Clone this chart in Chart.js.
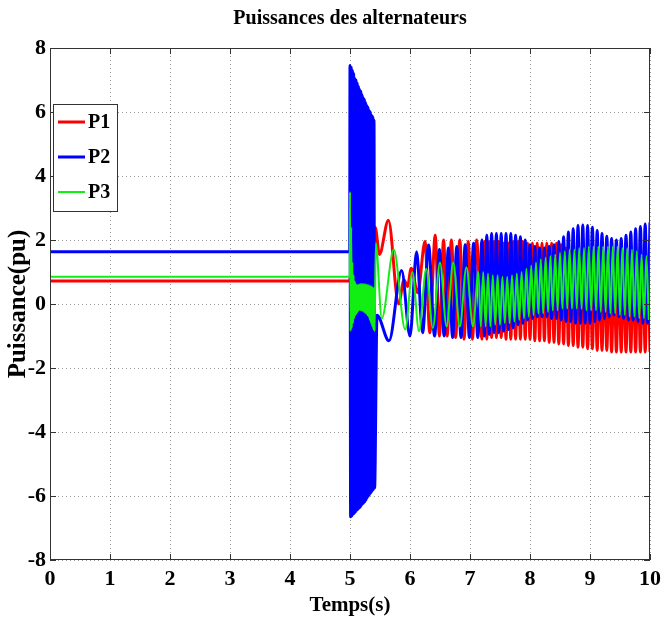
<!DOCTYPE html>
<html>
<head>
<meta charset="utf-8">
<title>Puissances des alternateurs</title>
<style>
    html, body { margin: 0; padding: 0; background: #fff; }
    canvas { display: block; }
</style>
<script src="https://cdn.jsdelivr.net/npm/chart.js@4/dist/chart.umd.min.js"></script>
</head>
<body>
<canvas id="powerChart" width="671" height="619"></canvas>
<script>
// axis ticks
const xTicks = [0, 1, 2, 3, 4, 5, 6, 7, 8, 9, 10];
const yTicks = [-8, -6, -4, -2, 0, 2, 4, 6, 8];

// before the fault (steady state)
const tPre = [0, 4.995];
const p1Pre = [0.72, 0.72];
const p2Pre = [1.63, 1.63];
const p3Pre = [0.85, 0.85];

// fault 5.0 - 5.4 s
const tFault = [5.00, 5.01, 5.02, 5.03, 5.04, 5.05, 5.06, 5.07, 5.08, 5.09, 5.10,
    5.11, 5.12, 5.13, 5.14, 5.15, 5.16, 5.17, 5.18, 5.19, 5.20,
    5.21, 5.22, 5.23, 5.24, 5.25, 5.26, 5.27, 5.28, 5.29, 5.30,
    5.31, 5.32, 5.33, 5.34, 5.35, 5.36, 5.37, 5.38, 5.39, 5.40];
const p1FaultT = [5.05, 5.15, 5.25, 5.35];
const p1Fault = [2.0, -0.4, 2.1, -0.3];
const p2Fault = [7.45, -6.65, 7.4, -6.62, 7.3, -6.58, 7.2, -6.55, 7.05, -6.5, 7.0,
    -6.45, 6.9, -6.42, 6.8, -6.38, 6.7, -6.35, 6.65, -6.3, 6.55,
    -6.25, 6.45, -6.22, 6.4, -6.18, 6.3, -6.12, 6.2, -6.05, 6.15,
    -6.0, 6.05, -5.95, 6.0, -5.9, 5.9, -5.85, 5.85, -5.8, 5.75];
const p3Fault = [3.5, -0.85, 2.4, -0.75, 1.3, -0.6, 0.9, -0.45, 0.7, -0.35, 0.62,
    -0.3, 0.6, -0.25, 0.6, -0.2, 0.62, -0.2, 0.63, -0.2, 0.63,
    -0.22, 0.63, -0.25, 0.62, -0.28, 0.62, -0.3, 0.6, -0.35, 0.6,
    -0.4, 0.58, -0.5, 0.56, -0.6, 0.55, -0.7, 0.52, -0.8, 0.5];

// after clearing, 5.4 - 7.2 s
const p1MidT = [5.42, 5.49, 5.64, 5.81, 5.90, 5.96, 6.02, 6.13, 6.25, 6.33, 6.42,
    6.49, 6.56, 6.62, 6.69, 6.76, 6.83, 6.90, 6.97, 7.04, 7.11];
const p1Mid = [2.4, 1.55, 2.62, 0.0, 0.75, 0.55, 1.12, 0.35, 1.95, -0.9, 2.15,
    -1.0, 2.0, -1.0, 2.0, -1.05, 2.0, -1.1, 1.95, -1.1, 2.0];
const p2MidT = [5.41, 5.45, 5.65, 5.86, 6.00, 6.11, 6.21, 6.31, 6.41, 6.49, 6.57,
    6.64, 6.71, 6.78, 6.85, 6.92, 6.99, 7.06, 7.13];
const p2Mid = [-5.75, -0.35, -1.15, 1.05, -1.0, 1.63, -0.9, 1.84, -1.0, 1.7, -1.0,
    1.75, -1.05, 1.8, -1.05, 1.85, -1.05, 1.9, -1.05];
const p3MidT = [5.41, 5.43, 5.53, 5.73, 5.92, 6.04, 6.15, 6.27, 6.38, 6.50, 6.61,
    6.72, 6.83, 6.94, 7.05, 7.14];
const p3Mid = [-0.85, 1.9, -0.45, 1.7, -0.8, 1.0, -0.85, 1.1, -0.75, 1.3, -0.7,
    1.3, -0.7, 1.15, -0.7, 1.0];

// fast oscillations 7.2 - 10 s
const tLate = [7.20, 7.24, 7.28, 7.32, 7.36, 7.40, 7.44, 7.48, 7.52, 7.56, 7.60, 7.64,
    7.68, 7.72, 7.76, 7.80, 7.84, 7.88, 7.92, 7.96, 8.00, 8.04, 8.08, 8.12, 8.16, 8.20,
    8.24, 8.28, 8.32, 8.36, 8.40, 8.44, 8.48, 8.52, 8.56, 8.60, 8.64, 8.68, 8.72, 8.76,
    8.80, 8.84, 8.88, 8.92, 8.96, 9.00, 9.04, 9.08, 9.12, 9.16, 9.20, 9.24, 9.28, 9.32,
    9.36, 9.40, 9.44, 9.48, 9.52, 9.56, 9.60, 9.64, 9.68, 9.72, 9.76, 9.80, 9.84, 9.88,
    9.92, 9.96, 10.00];
const p1Late = [-1.1, 1.95, -1.1, 1.95, -1.05, 1.95, -1.05, 1.95, -1.05, 1.9, -1.1, 1.9,
    -1.1, 1.95, -1.1, 1.95, -1.1, 1.95, -1.1, 1.9, -1.1, 1.9, -1.15, 1.9, -1.15, 1.9,
    -1.15, 1.9, -1.2, 1.9, -1.2, 1.9, -1.25, 1.85, -1.25, 1.75, -1.3, 1.65, -1.3, 1.6,
    -1.35, 1.55, -1.35, 1.5, -1.4, 1.45, -1.4, 1.4, -1.45, 1.4, -1.45, 1.35, -1.45, 1.35,
    -1.5, 1.3, -1.5, 1.3, -1.5, 1.3, -1.5, 1.3, -1.5, 1.3, -1.5, 1.35, -1.5, 1.35,
    -1.5, 1.4, -1.5];
const p2Late = [2.0, -1.0, 2.15, -0.95, 2.2, -0.9, 2.2, -0.9, 2.2, -0.85, 2.2, -0.8,
    2.2, -0.75, 2.15, -0.65, 2.1, -0.6, 2.0, -0.5, 1.85, -0.45, 1.8, -0.4, 1.75, -0.4,
    1.75, -0.4, 1.8, -0.45, 1.85, -0.45, 1.95, -0.5, 2.1, -0.55, 2.25, -0.55, 2.35, -0.6,
    2.45, -0.6, 2.47, -0.6, 2.45, -0.6, 2.4, -0.55, 2.3, -0.5, 2.2, -0.45, 2.12, -0.4,
    2.05, -0.35, 2.0, -0.4, 2.05, -0.45, 2.15, -0.5, 2.25, -0.5, 2.35, -0.55, 2.42, -0.6,
    2.5, -0.6, 2.55];
const tLateG = [7.18, 7.22, 7.26, 7.30, 7.34, 7.38, 7.42, 7.46, 7.50, 7.54, 7.58, 7.62,
    7.66, 7.70, 7.74, 7.78, 7.82, 7.86, 7.90, 7.94, 7.98, 8.02, 8.06, 8.10, 8.14, 8.18,
    8.22, 8.26, 8.30, 8.34, 8.38, 8.42, 8.46, 8.50, 8.54, 8.58, 8.62, 8.66, 8.70, 8.74,
    8.78, 8.82, 8.86, 8.90, 8.94, 8.98, 9.02, 9.06, 9.10, 9.14, 9.18, 9.22, 9.26, 9.30,
    9.34, 9.38, 9.42, 9.46, 9.50, 9.54, 9.58, 9.62, 9.66, 9.70, 9.74, 9.78, 9.82, 9.86,
    9.90, 9.94, 9.98];
const p3Late = [-0.7, 1.0, -0.7, 0.95, -0.7, 0.9, -0.65, 0.9, -0.65, 0.85, -0.6, 0.85,
    -0.6, 0.9, -0.55, 0.95, -0.5, 1.0, -0.45, 1.1, -0.4, 1.2, -0.35, 1.3, -0.3, 1.4,
    -0.3, 1.45, -0.25, 1.5, -0.2, 1.55, -0.2, 1.6, -0.15, 1.65, -0.15, 1.7, -0.15, 1.7,
    -0.15, 1.75, -0.15, 1.75, -0.2, 1.8, -0.2, 1.8, -0.2, 1.8, -0.25, 1.8, -0.25, 1.8,
    -0.3, 1.8, -0.3, 1.8, -0.35, 1.75, -0.35, 1.75, -0.4, 1.7, -0.4, 1.65, -0.45, 1.55,
    -0.45, 1.5, -0.5];

const seriesNames = ['P1', 'P2', 'P3'];
const seriesColors = ['#ff0000', '#0000ff', '#11ee11'];
const seriesWidths = [3, 3, 2];

const FONT = 'Liberation Serif, Times New Roman, serif';

function toPoints(times, values) {
    return times.map(function (t, i) { return { x: t, y: values[i] }; });
}

// MATLAB style box with inward ticks on all sides
const boxPlugin = {
    id: 'box',
    afterDatasetsDraw: function (chart) {
        const ctx = chart.ctx;
        const a = chart.chartArea;
        const xs = chart.scales.x, ys = chart.scales.y;
        ctx.save();
        ctx.strokeStyle = '#333';
        ctx.lineWidth = 1;
        ctx.strokeRect(a.left + 0.5, a.top + 0.5, a.right - a.left - 1, a.bottom - a.top - 1);
        ctx.beginPath();
        xTicks.forEach(function (t) {
            const px = Math.round(xs.getPixelForValue(t)) + 0.5;
            ctx.moveTo(px, a.bottom); ctx.lineTo(px, a.bottom - 6);
            ctx.moveTo(px, a.top); ctx.lineTo(px, a.top + 6);
        });
        yTicks.forEach(function (v) {
            const py = Math.round(ys.getPixelForValue(v)) + 0.5;
            ctx.moveTo(a.left, py); ctx.lineTo(a.left + 6, py);
            ctx.moveTo(a.right, py); ctx.lineTo(a.right - 6, py);
        });
        ctx.stroke();
        ctx.restore();
    }
};

// legend box in the upper left corner of the plot
const legendPlugin = {
    id: 'boxLegend',
    afterDraw: function (chart) {
        const ctx = chart.ctx;
        const a = chart.chartArea;
        const x0 = a.left + 3, y0 = 104, w = 64, h = 107;
        ctx.save();
        ctx.fillStyle = '#fff';
        ctx.fillRect(x0, y0, w, h);
        ctx.strokeStyle = '#333';
        ctx.lineWidth = 1;
        ctx.strokeRect(x0 + 0.5, y0 + 0.5, w, h);
        seriesNames.forEach(function (name, i) {
            const y = y0 + 18 + i * 35;
            ctx.strokeStyle = seriesColors[i];
            ctx.lineWidth = seriesWidths[i];
            ctx.beginPath();
            ctx.moveTo(x0 + 5, y);
            ctx.lineTo(x0 + 32, y);
            ctx.stroke();
            ctx.fillStyle = '#000';
            ctx.font = 'bold 20px ' + FONT;
            ctx.textBaseline = 'middle';
            ctx.fillText(name, x0 + 35, y + 1);
        });
        ctx.restore();
    }
};

function LoadPowerChart() {
    const ctx = document.getElementById('powerChart').getContext('2d');

    const p1Data = toPoints(tPre.concat(p1FaultT, p1MidT, tLate), p1Pre.concat(p1Fault, p1Mid, p1Late));
    const p2Data = toPoints(tPre.concat(tFault, p2MidT, tLate), p2Pre.concat(p2Fault, p2Mid, p2Late));
    const p3Data = toPoints(tPre.concat(tFault, p3MidT, tLateG), p3Pre.concat(p3Fault, p3Mid, p3Late));

    new Chart(ctx, {
        type: 'line',
        data: {
            datasets: [
                { label: seriesNames[0], data: p1Data, borderColor: seriesColors[0], borderWidth: seriesWidths[0], order: 3 },
                { label: seriesNames[1], data: p2Data, borderColor: seriesColors[1], borderWidth: seriesWidths[1], order: 2 },
                { label: seriesNames[2], data: p3Data, borderColor: seriesColors[2], borderWidth: seriesWidths[2], order: 1 }
            ]
        },
        options: {
            responsive: false,
            animation: false,
            devicePixelRatio: 1,
            events: [],
            layout: { padding: { left: 0, right: 21, top: 0, bottom: 0 } },
            elements: {
                point: { radius: 0 },
                line: { cubicInterpolationMode: 'monotone', fill: false }
            },
            plugins: {
                legend: { display: false },
                tooltip: { enabled: false },
                title: {
                    display: true,
                    fullSize: false,
                    text: 'Puissances des alternateurs',
                    color: '#000',
                    font: { family: FONT, size: 20, weight: 'bold' },
                    padding: { top: 7, bottom: 17 }
                }
            },
            scales: {
                x: {
                    type: 'linear',
                    min: 0,
                    max: 10,
                    afterFit: function (scale) { scale.height = 59; },
                    afterBuildTicks: function (scale) {
                        scale.ticks = xTicks.map(function (v) { return { value: v }; });
                    },
                    ticks: {
                        color: '#000',
                        font: { family: FONT, size: 22, weight: 'bold' },
                        padding: 6,
                        maxRotation: 0,
                        autoSkip: false
                    },
                    grid: { color: 'rgba(0,0,0,0.4)', lineWidth: 1, drawTicks: false },
                    border: { display: false, dash: [1, 3] },
                    title: {
                        display: true,
                        text: 'Temps(s)',
                        color: '#000',
                        font: { family: FONT, size: 21, weight: 'bold' },
                        padding: { top: 0, bottom: 1 }
                    }
                },
                y: {
                    min: -8,
                    max: 8,
                    afterFit: function (scale) { scale.width = 50; },
                    afterBuildTicks: function (scale) {
                        scale.ticks = yTicks.map(function (v) { return { value: v }; });
                    },
                    ticks: {
                        color: '#000',
                        font: { family: FONT, size: 22, weight: 'bold' },
                        padding: 4
                    },
                    grid: { color: 'rgba(0,0,0,0.4)', lineWidth: 1, drawTicks: false },
                    border: { display: false, dash: [1, 3] },
                    title: {
                        display: true,
                        text: 'Puissance(pu)',
                        color: '#000',
                        font: { family: FONT, size: 25, weight: 'bold' },
                        padding: { top: 4, bottom: 0 }
                    }
                }
            }
        },
        plugins: [boxPlugin, legendPlugin]
    });
}

LoadPowerChart();
</script>
</body>
</html>
